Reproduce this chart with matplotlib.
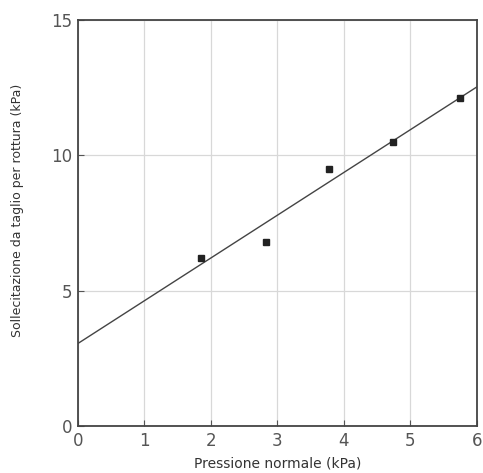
import matplotlib
matplotlib.use('Agg')
import matplotlib.pyplot as plt
import numpy as np

# data
pressione = [1.85, 2.82, 3.77, 4.74, 5.74]
sollecitazione = [6.2, 6.8, 9.5, 10.5, 12.1]
intercetta = 3.05
pendenza = 1.58
x_ticks = [0, 1, 2, 3, 4, 5, 6]
y_ticks = [0, 5, 10, 15]

fig = plt.figure(figsize=(4.83, 4.73), dpi=100)
ax = fig.add_axes([0.1615, 0.0994, 0.826, 0.8583])

ax.grid(True, color='#d8d8d8', lw=0.9)
ax.set_axisbelow(True)

xl = np.array([0, 6.2])
ax.plot(xl, intercetta + pendenza * xl, color='#444444', lw=1.0)
ax.plot(pressione, sollecitazione, 's', color='#222222', ms=5)

ax.set_xlim(0, 6)
ax.set_ylim(0, 15)
ax.set_xticks(x_ticks)
ax.set_yticks(y_ticks)
for s in ax.spines.values():
    s.set_color('#444444')
    s.set_linewidth(1.3)
ax.tick_params(direction='in', length=4, colors='#555555', labelsize=12, pad=4)
ax.set_xlabel('Pressione normale (kPa)', fontsize=10, color='#333333', labelpad=5)
ax.set_ylabel('Sollecitazione da taglio per rottura (kPa)', fontsize=9, color='#333333', labelpad=20)
ax.yaxis.set_label_coords(-0.135, 0.53)

fig.savefig('out.png', dpi=100)
